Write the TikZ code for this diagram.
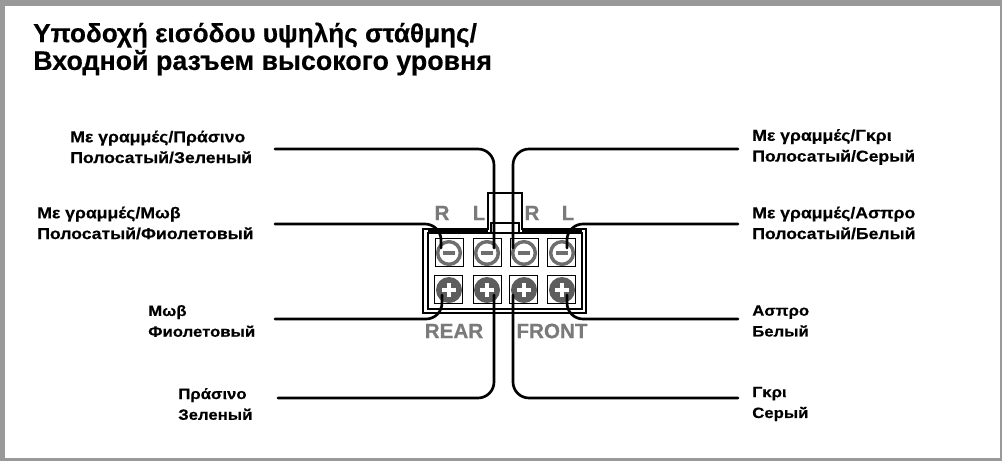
\documentclass[tikz,border=0pt]{standalone}
\usepackage{fontspec}
\setmainfont{Liberation Sans}
\newfontfamily\labelfont[FakeStretch=1.12, FakeBold=0.4]{Liberation Sans Bold}
\newfontfamily\headfont[FakeBold=0.4]{Liberation Sans Bold}
\usetikzlibrary{positioning, calc, shapes.misc}

\definecolor{framegray}{HTML}{999999}
\definecolor{termgray}{HTML}{6E6E6E}
\definecolor{capgray}{HTML}{7A7A7A}

\tikzset{
    heading/.style={anchor=west, align=left, inner sep=0pt, font=\headfont\fontsize{19.6}{20.8}\selectfont},
    wirelabel/.style={anchor=west, align=left, inner sep=0pt, font=\labelfont\fontsize{11.8}{15.6}\selectfont},
    shortlabel/.style={wirelabel, font=\labelfont\fontsize{11.2}{15.6}\selectfont},
    termlabel/.style={inner sep=0pt, text=capgray, font=\headfont\fontsize{15.5}{16}\selectfont},
    wire/.style={line width=2pt, rounded corners=12pt, line cap=round},
    housing/.style={line width=0.95pt, draw=black},
    plate/.style={rectangle, draw, line width=0.75pt, fill=white, minimum size=21pt, inner sep=0pt},
    chamfplate/.style={chamfered rectangle, chamfered rectangle corners={north west, north east},
        chamfered rectangle xsep=4pt, chamfered rectangle ysep=4pt, draw, line width=0.75pt,
        fill=white, minimum width=21pt, minimum height=21pt, inner sep=0pt},
    minusscrew/.style={circle, draw=termgray, line width=2.6pt, fill=white, minimum size=17pt, inner sep=0pt,
        path picture={\draw[termgray, line width=2.3pt] ([xshift=-4.3pt]path picture bounding box.center) -- ([xshift=4.3pt]path picture bounding box.center);}},
    plusscrew/.style={circle, fill=termgray!85!black, minimum size=19.5pt, inner sep=0pt,
        path picture={\draw[white, line width=2.3pt] ([xshift=-5.3pt]path picture bounding box.center) -- ([xshift=5.3pt]path picture bounding box.center);
            \draw[white, line width=2.3pt] ([yshift=-5.3pt]path picture bounding box.center) -- ([yshift=5.3pt]path picture bounding box.center);}}
}

\begin{document}
\begin{tikzpicture}[x=0.75pt, y=-0.75pt]
    \useasboundingbox (0,0) rectangle (1002,461);
    \fill[framegray] (0,0) rectangle (1002,461);
    \fill[white] (5,6) rectangle (1000,458);

    \node[heading] (title) at (33,49) {Υποδοχή εισόδου υψηλής στάθμης/\\\fontsize{20.1}{20.8}\selectfont Входной разъем высокого уровня};

    % Labels on the left
    \node[wirelabel] (lblStripeGreen) at (70,147) {Με γραμμές/Πράσινο\\Полосатый/Зеленый};
    \node[wirelabel] (lblStripeViolet) at (37,223) {Με γραμμές/Μωβ\\Полосатый/Фиолетовый};
    \node[shortlabel] (lblViolet) at (148,321) {Μωβ\\Фиолетовый};
    \node[shortlabel] (lblGreen) at (178,404) {Πράσινο\\Зеленый};
    % Labels on the right
    \node[wirelabel] (lblStripeGray) at (752,147) {Με γραμμές/Γκρι\\Полосатый/Серый};
    \node[wirelabel] (lblStripeWhite) at (752,223) {Με γραμμές/Ασπρο\\Полосатый/Белый};
    \node[shortlabel] (lblWhite) at (752,321) {Ασπρο\\Белый};
    \node[shortlabel] (lblGray) at (752,404) {Γκρι\\Серый};

    % Connector housing
    \draw[housing] (423,313) -- (423,229) -- (488,229) -- (488,193) -- (522,193) -- (522,229) -- (586,229) -- (586,313) -- cycle;
    \draw[housing] (428,309) -- (428,233) -- (582,233) -- (582,309) -- cycle;
    \draw[line width=2pt] (491,232) -- (491,223) -- (519,223) -- (519,232);
    \draw[line width=2pt] (428,231) -- (488,231);
    \draw[line width=2pt] (522,231) -- (582,231);

    % Terminal plates
    \node[plate] (plateA) at (449,252) {};
    \node[chamfplate] (plateB) at (487,252) {};
    \node[chamfplate] (plateC) at (524,252) {};
    \node[plate] (plateD) at (561,252) {};
    \node[chamfplate] (plateE) at (448,289) {};
    \node[plate] (plateF) at (487,289) {};
    \node[plate] (plateG) at (523,289) {};
    \node[chamfplate] (plateH) at (561,289) {};

    % Screws
    \foreach \n/\x in {A/449, B/487, C/524, D/562} {
        \node[minusscrew] (minus\n) at (\x,253) {};
    }
    \foreach \n/\x in {E/449, F/487, G/524, H/562} {
        \node[plusscrew] (plus\n) at (\x,290) {};
    }

    % Terminal letters
    \node[termlabel] (capRearR) at (442,213) {R};
    \node[termlabel] (capRearL) at (479,213) {L};
    \node[termlabel] (capFrontR) at (532,213) {R};
    \node[termlabel] (capFrontL) at (568,213) {L};
    \node[termlabel] (capRear) at (454,331) {REAR};
    \node[termlabel] (capFront) at (552,331) {FRONT};

    % Free ends of the wires
    \coordinate (endA) at (275,224);
    \coordinate (endB) at (275,149);
    \coordinate (endC) at (738,149);
    \coordinate (endD) at (738,224);
    \coordinate (endE) at (275,319);
    \coordinate (endF) at (278,398);
    \coordinate (endG) at (738,398);
    \coordinate (endH) at (738,319);

    % Wires
    \draw[wire] (endA) -| ([shift={(-8,-5)}]minusA.center);
    \draw[wire] (endB) -| ([shift={(7,-5)}]minusB.center);
    \draw[wire] (endC) -| ([shift={(-11,-5)}]minusC.center);
    \draw[wire] (endD) -| ([shift={(5,-5)}]minusD.center);
    \draw[wire] (endE) -| ([shift={(-7,5)}]plusE.center);
    \draw[wire] (endF) -| ([shift={(7,5)}]plusF.center);
    \draw[wire] (endG) -| ([shift={(-11,5)}]plusG.center);
    \draw[wire] (endH) -| ([shift={(5,5)}]plusH.center);
\end{tikzpicture}
\end{document}
